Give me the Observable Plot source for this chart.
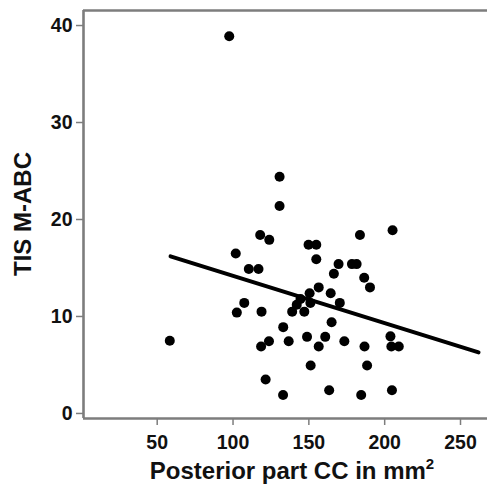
<!DOCTYPE html>
<html>
<head>
<meta charset="utf-8">
<script src="https://cdn.jsdelivr.net/npm/d3@7"></script>
<script src="https://cdn.jsdelivr.net/npm/@observablehq/plot@0.6"></script>
<style>
  html, body { margin: 0; padding: 0; background: #fff; }
  #chart svg text { font-family: "Liberation Sans", Arial, Helvetica, sans-serif; font-weight: bold; }
  #chart svg g[aria-label$="tick label"] { font-size: 19.5px; }
</style>
</head>
<body>
<div id="chart"></div>
<script>
// Posterior part CC (mm²)
const ccArea = [
  97.5, 58.3, 101.8, 102.5, 107.4, 110.4, 116.8, 117.9, 123.9, 130.7,
  130.7, 149.8, 154.9, 154.9, 183.7, 205.2, 169.6, 166.5, 178.4, 181.5,
  186.5, 190.3, 156.5, 164.4, 150.5, 170.4, 118.8, 139.0, 147.0, 142.0,
  144.5, 151.0, 133.1, 165.0, 118.5, 123.7, 136.7, 148.8, 156.5, 160.8,
  173.4, 151.2, 121.5, 133.0, 163.4, 184.5, 186.7, 188.4, 203.8, 204.4,
  209.3, 204.8
];
// TIS M-ABC
const tisScore = [
  38.9, 7.5, 16.5, 10.4, 11.4, 14.9, 14.9, 18.4, 17.9, 24.4,
  21.4, 17.4, 17.4, 15.9, 18.4, 18.9, 15.4, 14.4, 15.4, 15.4,
  14.0, 13.0, 13.0, 12.4, 12.4, 11.4, 10.5, 10.5, 10.5, 11.2,
  11.8, 11.4, 8.9, 9.4, 6.9, 7.45, 7.45, 7.9, 6.9, 7.9,
  7.45, 4.95, 3.5, 1.9, 2.4, 1.9, 6.9, 4.95, 7.95, 6.9,
  6.9, 2.4
];
// fitted regression line (endpoints)
const fitX = [58.8, 261.9];
const fitY = [16.2, 6.3];

const xTicks = [50, 100, 150, 200, 250];
const yTicks = [0, 10, 20, 30, 40];
const xDomain = [1.4, 267.8];
const yDomain = [-0.52, 41.55];

const xLabel = "Posterior part CC in mm";
const xLabelSup = "2";
const yLabel = "TIS M-ABC";

const points = ccArea.map((x, i) => ({x, y: tisScore[i]}));
const fit = fitX.map((x, i) => ({x, y: fitY[i]}));

const axisGray = "#7d7d7d";
const W = 487, H = 489;
const mL = 83, mR = 0, mT = 10, mB = 71;

const plot = Plot.plot({
  width: W,
  height: H,
  marginLeft: mL,
  marginRight: mR,
  marginTop: mT,
  marginBottom: mB,
  style: {background: "#fff", fontFamily: "'Liberation Sans', Arial, sans-serif", overflow: "visible"},
  x: {domain: xDomain},
  y: {domain: yDomain},
  marks: [
    Plot.ruleY([yDomain[0]], {stroke: axisGray, strokeWidth: 2.6}),
    Plot.ruleY([yDomain[1]], {stroke: axisGray, strokeWidth: 2.6}),
    Plot.ruleX([xDomain[0]], {stroke: axisGray, strokeWidth: 2.6}),
    Plot.axisX({ticks: xTicks, tickFormat: d => String(d), tickSize: 7, tickPadding: 10,
      stroke: axisGray, strokeWidth: 1.5, fill: "#111", fontSize: 19.5, fontWeight: "bold", label: null}),
    Plot.axisY({ticks: yTicks, tickFormat: d => String(d), tickSize: 7, tickPadding: 4,
      stroke: axisGray, strokeWidth: 1.5, fill: "#111", fontSize: 19.5, fontWeight: "bold", label: null}),
    Plot.line(fit, {x: "x", y: "y", stroke: "#000", strokeWidth: 4}),
    Plot.dot(points, {x: "x", y: "y", r: 5, fill: "#000", stroke: "none"})
  ]
});

const svg = d3.select(plot);
svg.selectAll('g[aria-label$="tick label"]').attr("font-size", 19.5);

svg.append("text")
  .attr("x", 292)
  .attr("y", 479)
  .attr("text-anchor", "middle")
  .attr("font-size", 24)
  .attr("font-weight", "bold")
  .attr("fill", "#111")
  .text(xLabel)
  .append("tspan")
  .attr("font-size", 15)
  .attr("dy", -10)
  .text(xLabelSup);

svg.append("text")
  .attr("transform", "translate(31,214) rotate(-90)")
  .attr("text-anchor", "middle")
  .attr("font-size", 24)
  .attr("font-weight", "bold")
  .attr("fill", "#111")
  .text(yLabel);

document.getElementById("chart").appendChild(plot);
</script>
</body>
</html>
